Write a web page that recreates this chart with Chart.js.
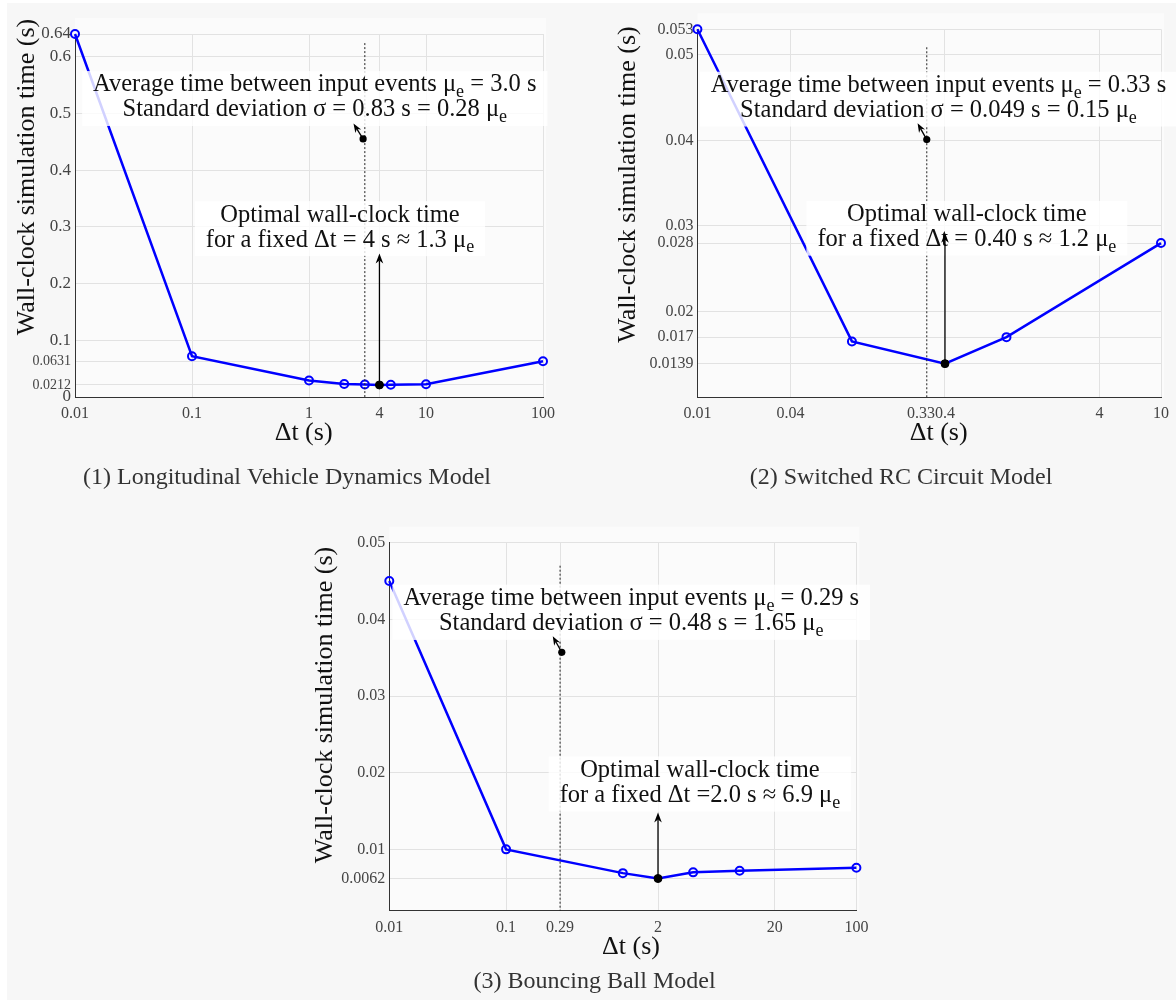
<!DOCTYPE html>
<html>
<head>
<meta charset="utf-8">
<script src="https://cdn.jsdelivr.net/npm/chart.js@4.4.1/dist/chart.umd.min.js"></script>
<style>
  body { margin: 0; background: #fff; width: 1176px; height: 1001px; overflow: hidden; }
  #fig { position: absolute; left: 7px; top: 3px; width: 1169px; height: 997px; background: #f7f7f7; }
  canvas { position: absolute; }
</style>
</head>
<body>
<div id="fig"></div>
<canvas id="c1" width="588" height="500" style="left:0;top:0"></canvas>
<canvas id="c2" width="588" height="500" style="left:588px;top:0"></canvas>
<canvas id="c3" width="576" height="486" style="left:300px;top:515px"></canvas>
<script>
// (1) Longitudinal vehicle dynamics
const dt1 = [0.01, 0.1, 1, 2, 3, 4, 5, 10, 100];
const wall1 = [0.64, 0.072, 0.029, 0.023, 0.0219, 0.0212, 0.0216, 0.0224, 0.0631];
const xTicks1 = [0.01, 0.1, 1, 4, 10, 100];
const xLabels1 = ['0.01', '0.1', '1', '4', '10', '100'];
const yTicks1 = [0, 0.0212, 0.0631, 0.1, 0.2, 0.3, 0.4, 0.5, 0.6, 0.64];

// (2) Switched RC circuit
const dt2 = [0.01, 0.1, 0.4, 1, 10];
const wall2 = [0.053, 0.0165, 0.0139, 0.017, 0.028];
const xTicks2 = [0.01, 0.04, 0.28, 0.4, 4, 10];
const xLabels2 = ['0.01', '0.04', '0.33', '0.4', '4', '10'];
const yTicks2 = [0.0139, 0.017, 0.02, 0.028, 0.03, 0.04, 0.05, 0.053];

// (3) Bouncing ball
const dt3 = [0.01, 0.1, 1, 2, 4, 10, 100];
const wall3 = [0.045, 0.01, 0.0069, 0.0062, 0.0070, 0.0072, 0.0076];
const xTicks3 = [0.01, 0.1, 0.29, 2, 20, 100];
const xLabels3 = ['0.01', '0.1', '0.29', '2', '20', '100'];
const yTicks3 = [0.0062, 0.01, 0.02, 0.03, 0.04, 0.05];

Chart.defaults.font.family = '"Liberation Serif", serif';
Chart.defaults.color = '#444';

const FONT = '"Liberation Serif", serif';
const NOTE_SIZE = 24.5;

function drawRich(ctx, s, cx, cy, size, measureOnly) {
  const parts = s.split(/(_e)/).filter(p => p !== '');
  const big = size + 'px ' + FONT;
  const small = Math.round(size * 0.72) + 'px ' + FONT;
  let w = 0;
  parts.forEach(p => {
    ctx.font = p === '_e' ? small : big;
    w += ctx.measureText(p === '_e' ? 'e' : p).width;
  });
  if (measureOnly) return w;
  let x = cx - w / 2;
  ctx.textAlign = 'left';
  ctx.textBaseline = 'middle';
  parts.forEach(p => {
    const sub = p === '_e';
    const t = sub ? 'e' : p;
    ctx.font = sub ? small : big;
    ctx.fillText(t, x, sub ? cy + size * 0.3 : cy);
    x += ctx.measureText(t).width;
  });
  return w;
}

function arrow(ctx, x0, y0, x1, y1, head) {
  const a = Math.atan2(y1 - y0, x1 - x0);
  const c = Math.cos(a), s = Math.sin(a);
  ctx.beginPath();
  ctx.moveTo(x0, y0);
  ctx.lineTo(x1 - c * head * 0.7, y1 - s * head * 0.7);
  ctx.stroke();
  ctx.beginPath();
  ctx.moveTo(x1, y1);
  ctx.lineTo(x1 - head * c + head * 0.38 * s, y1 - head * s - head * 0.38 * c);
  ctx.lineTo(x1 - head * 0.7 * c, y1 - head * 0.7 * s);
  ctx.lineTo(x1 - head * c - head * 0.38 * s, y1 - head * s + head * 0.38 * c);
  ctx.closePath();
  ctx.fill();
}

function textBox(ctx, lines, cx, ys, size) {
  let w = 0;
  lines.forEach(l => { w = Math.max(w, drawRich(ctx, l, 0, 0, size, true)); });
  const top = ys[0] - 14, bottom = ys[ys.length - 1] + 16;
  ctx.fillStyle = 'rgba(255,255,255,0.82)';
  ctx.fillRect(cx - w / 2 - 11, top, w + 22, bottom - top);
  ctx.fillStyle = '#111';
  lines.forEach((l, i) => drawRich(ctx, l, cx, ys[i], size));
}

const notesPlugin = {
  id: 'notes',
  beforeDraw(chart) {
    const { ctx, chartArea: a } = chart;
    ctx.save();
    ctx.fillStyle = '#fbfbfb';
    ctx.fillRect(a.left, a.top - 16, a.right - a.left + 3, a.bottom - a.top + 16);
    ctx.restore();
  },
  afterDatasetsDraw(chart) {
    const n = chart.options.plugins.notes;
    const { ctx } = chart;
    const xs = chart.scales.x, ys = chart.scales.y;
    const X = v => xs.getPixelForValue(v), Y = v => ys.getPixelForValue(v);
    ctx.save();
    // mean input interval
    ctx.strokeStyle = '#222';
    ctx.lineWidth = 1;
    ctx.setLineDash([2, 2]);
    ctx.beginPath();
    ctx.moveTo(X(n.mu), Y(n.muTop));
    ctx.lineTo(X(n.mu), chart.chartArea.bottom);
    ctx.stroke();
    ctx.setLineDash([]);
    // text boxes
    textBox(ctx, n.info.lines, X(n.info.x), n.info.y.map(Y), NOTE_SIZE);
    textBox(ctx, n.best.lines, X(n.best.tx), n.best.ty.map(Y), NOTE_SIZE);
    // arrows
    ctx.strokeStyle = '#000';
    ctx.fillStyle = '#000';
    ctx.lineWidth = 1.3;
    arrow(ctx, X(n.best.x), Y(n.best.y), X(n.best.x), Y(n.best.top), 10);
    arrow(ctx, X(n.dot[0]), Y(n.dot[1]), X(n.tip[0]), Y(n.tip[1]), 9);
    ctx.beginPath();
    ctx.arc(X(n.dot[0]), Y(n.dot[1]), 3.6, 0, Math.PI * 2);
    ctx.fill();
    ctx.restore();
  },
  afterDraw(chart) {
    const f = chart.options.plugins.notes.frame;
    const { ctx } = chart;
    ctx.save();
    ctx.fillStyle = '#111';
    ctx.textAlign = 'center';
    ctx.textBaseline = 'middle';
    ctx.font = '26px ' + FONT;
    ctx.fillText('Δt (s)', f.xTitle[0], f.xTitle[1]);
    ctx.font = '24px ' + FONT;
    ctx.fillStyle = '#333';
    ctx.fillText(f.caption, f.capPos[0], f.capPos[1]);
    ctx.fillStyle = '#111';
    ctx.translate(f.yTitle[0], f.yTitle[1]);
    ctx.rotate(-Math.PI / 2);
    ctx.font = '26px ' + FONT;
    ctx.fillText('Wall-clock simulation time (s)', 0, 0);
    ctx.restore();
  }
};

function makeChart(id, cfg) {
  const isBest = c => c.raw && c.raw.x === cfg.notes.best.x;
  return new Chart(document.getElementById(id), {
    type: 'line',
    data: {
      datasets: [{
        data: cfg.dt.map((d, i) => ({ x: d, y: cfg.wall[i] })),
        borderColor: '#0000ff',
        borderWidth: 2.5,
        pointRadius: c => (isBest(c) ? 4 : 4),
        pointBorderWidth: c => (isBest(c) ? 1 : 2),
        pointBorderColor: c => (isBest(c) ? '#000' : '#0000ff'),
        pointBackgroundColor: c => (isBest(c) ? '#000' : 'rgba(255,255,255,0)'),
        tension: 0,
        clip: false
      }]
    },
    options: {
      responsive: false,
      animation: false,
      devicePixelRatio: 1,
      layout: { padding: cfg.padding },
      plugins: { legend: { display: false }, tooltip: { enabled: false }, notes: cfg.notes },
      scales: {
        x: {
          type: 'logarithmic',
          min: 0.01,
          max: cfg.xMax,
          bounds: 'data',
          afterBuildTicks: s => { s.ticks = cfg.xTicks.map(v => ({ value: v })); },
          afterFit: s => { s.height = 40; },
          ticks: {
            autoSkip: false,
            maxRotation: 0,
            padding: 7,
            font: { size: 16 },
            color: '#444',
            callback: (v, i) => cfg.xLabels[i]
          },
          grid: {
            color: c => (c.index === cfg.noGrid ? 'rgba(0,0,0,0)' : '#e2e2e2'),
            drawTicks: false
          },
          border: { color: '#333', width: 1 }
        },
        y: {
          type: 'linear',
          min: cfg.yMin,
          max: cfg.yMax,
          bounds: 'data',
          afterBuildTicks: s => { s.ticks = cfg.yTicks.map(v => ({ value: v })); },
          afterFit: s => { s.width = cfg.yWidth; },
          ticks: {
            autoSkip: false,
            padding: 4,
            font: c => ({ size: cfg.smallTicks && c.tick && String(c.tick.value).length > 5 ? 14 : cfg.tickSize }),
            color: '#444',
            callback: v => String(v)
          },
          grid: { color: '#e2e2e2', drawTicks: false },
          border: { color: '#333', width: 1 }
        }
      }
    },
    plugins: [notesPlugin]
  });
}

makeChart('c1', {
  dt: dt1, wall: wall1, xTicks: xTicks1, xLabels: xLabels1, yTicks: yTicks1,
  xMax: 100, yMin: 0, yMax: 0.64, yWidth: 75, tickSize: 17, smallTicks: true, noGrid: -1,
  padding: { left: 0, top: 34, right: 45, bottom: 63 },
  notes: {
    mu: 3.0, muTop: 0.624, dot: [2.9, 0.455], tip: [2.4, 0.482],
    info: { x: 1.12, y: [0.55, 0.506], lines: ['Average time between input events μ_e = 3.0 s', 'Standard deviation σ = 0.83 s = 0.28 μ_e'] },
    best: { x: 4, y: 0.0212, top: 0.253, tx: 1.84, ty: [0.3207, 0.2765], lines: ['Optimal wall-clock time', 'for a fixed Δt = 4 s ≈ 1.3 μ_e'] },
    frame: { yTitle: [27, 177], xTitle: [303.6, 433], capPos: [287, 478], caption: '(1) Longitudinal Vehicle Dynamics Model' }
  }
});

makeChart('c2', {
  dt: dt2, wall: wall2, xTicks: xTicks2, xLabels: xLabels2, yTicks: yTicks2,
  xMax: 10, yMin: 0.01, yMax: 0.053, yWidth: 109.4, tickSize: 16, smallTicks: false, noGrid: 2,
  padding: { left: 0, top: 29.3, right: 12, bottom: 63 },
  notes: {
    mu: 0.305, muTop: 0.0509, dot: [0.305, 0.0401], tip: [0.266, 0.042],
    info: { x: 0.363, y: [0.0464, 0.0435], lines: ['Average time between input events μ_e = 0.33 s', 'Standard deviation σ = 0.049 s = 0.15 μ_e'] },
    best: { x: 0.4, y: 0.0139, top: 0.0292, tx: 0.554, ty: [0.0313, 0.0284], lines: ['Optimal wall-clock time', 'for a fixed Δt = 0.40 s ≈ 1.2 μ_e'] },
    frame: { yTitle: [40.5, 184.5], xTitle: [350.7, 433], capPos: [313, 478], caption: '(2) Switched RC Circuit Model' }
  }
});

makeChart('c3', {
  dt: dt3, wall: wall3, xTicks: xTicks3, xLabels: xLabels3, yTicks: yTicks3,
  xMax: 100, yMin: 0.002, yMax: 0.05, yWidth: 89.3, tickSize: 16, smallTicks: false, noGrid: -1,
  padding: { left: 0, top: 27.7, right: 19.6, bottom: 50.3 },
  notes: {
    mu: 0.29, muTop: 0.047, dot: [0.30, 0.0357], tip: [0.251, 0.0378],
    info: { x: 1.18, y: [0.0427, 0.0394], lines: ['Average time between input events μ_e = 0.29 s', 'Standard deviation σ = 0.48 s = 1.65 μ_e'] },
    best: { x: 2, y: 0.0062, top: 0.0148, tx: 4.57, ty: [0.0203, 0.0170], lines: ['Optimal wall-clock time', 'for a fixed Δt =2.0 s ≈ 6.9 μ_e'] },
    frame: { yTitle: [25, 190], xTitle: [331, 431.7], capPos: [294.6, 466.7], caption: '(3) Bouncing Ball Model' }
  }
});
</script>
</body>
</html>
